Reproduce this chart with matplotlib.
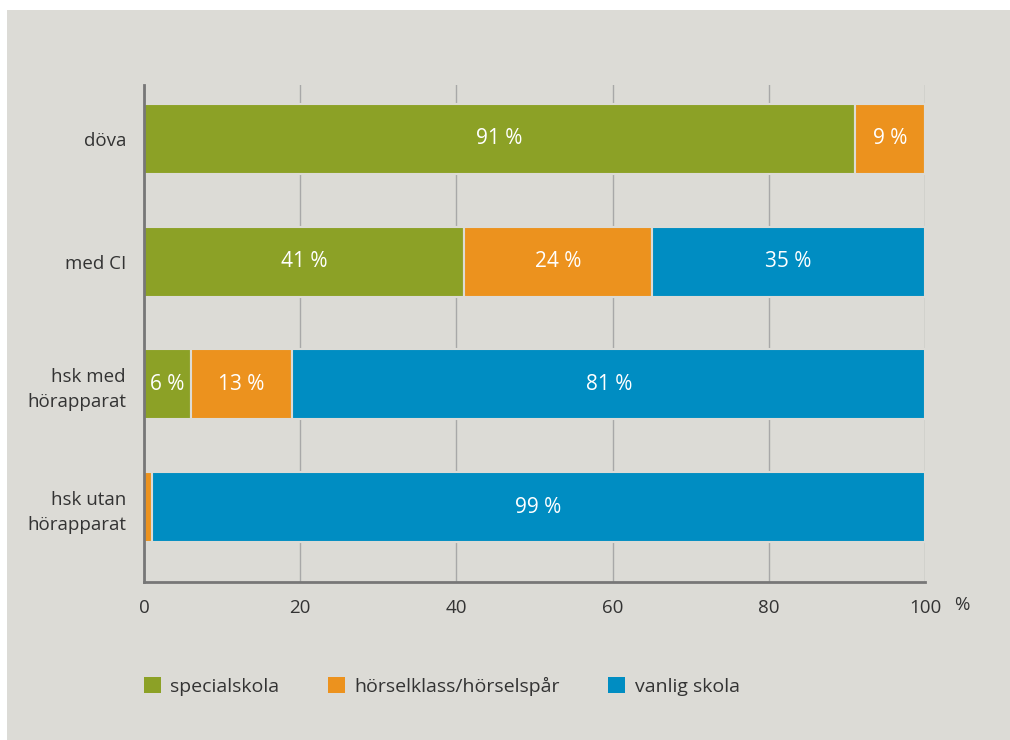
import matplotlib.pyplot as plt
from matplotlib.patches import Patch, Rectangle
import numpy as np

categories = ['döva', 'med CI', 'hsk med\nhörapparat', 'hsk utan\nhörapparat']
series = ['specialskola', 'hörselklass/hörselspår', 'vanlig skola']
specialskola = [91, 41, 6, 0]
horselklass = [9, 24, 13, 1]
vanlig = [0, 35, 81, 99]
xticks = [0, 20, 40, 60, 80, 100]

colors = ['#8ca126', '#ec921e', '#008dc2']
bg = '#dcdbd6'
txt = '#333333'

plt.rcParams['font.family'] = ['Open Sans', 'DejaVu Sans']

fig = plt.figure(figsize=(10.1, 7.4), dpi=100)
fig.patch.set_facecolor('white')
fig.patches.append(Rectangle((7 / 1010, 0), 1, 730 / 740, transform=fig.transFigure,
                             facecolor=bg, edgecolor='none', zorder=-10))

ax = fig.add_axes([144 / 1010, 158 / 740, 781 / 1010, 497 / 740])
ax.set_facecolor(bg)

y = np.arange(len(categories))
left = np.zeros(len(categories))
for vals, col in zip([specialskola, horselklass, vanlig], colors):
    vals = np.array(vals, dtype=float)
    bars = ax.barh(y, vals, left=left, height=0.57, color=col,
                   edgecolor=bg, linewidth=1.5, zorder=3)
    for b, v in zip(bars, vals):
        if v >= 5:
            ax.text(b.get_x() + b.get_width() / 2, b.get_y() + b.get_height() / 2,
                    f'{int(v)} %', ha='center', va='center', color='white',
                    fontsize=15, zorder=4)
    left += vals

ax.set_xlim(0, 100)
ax.set_ylim(3.61, -0.44)
ax.set_yticks(y)
ax.set_yticklabels(categories, fontsize=13.5, color=txt, ha='right',
                   multialignment='right', linespacing=1.5)
ax.set_xticks(xticks)
ax.set_xticklabels([str(t) for t in xticks], fontsize=13.5, color=txt)
ax.tick_params(axis='both', length=0)
ax.tick_params(axis='x', pad=12)
ax.tick_params(axis='y', pad=13)
ax.grid(axis='x', color='#a8a8a8', linewidth=1.0, zorder=1)
for s in ['top', 'right']:
    ax.spines[s].set_visible(False)
for s in ['left', 'bottom']:
    ax.spines[s].set_color('#777777')
    ax.spines[s].set_linewidth(2)
    ax.spines[s].set_zorder(5)

fig.text(962 / 1010, (740 - 605) / 740, '%', fontsize=13.5, color=txt, ha='center', va='center')

handles = [Patch(facecolor=c, edgecolor='none') for c in colors]
fig.legend(handles, series, loc='center left', bbox_to_anchor=(144 / 1010, (740 - 686) / 740),
           ncol=3, frameon=False, fontsize=14, handlelength=0.85, handleheight=0.85,
           handletextpad=0.5, columnspacing=2.5, labelcolor=txt,
           borderpad=0, borderaxespad=0)

fig.savefig('out.png', dpi=100, facecolor='white')
